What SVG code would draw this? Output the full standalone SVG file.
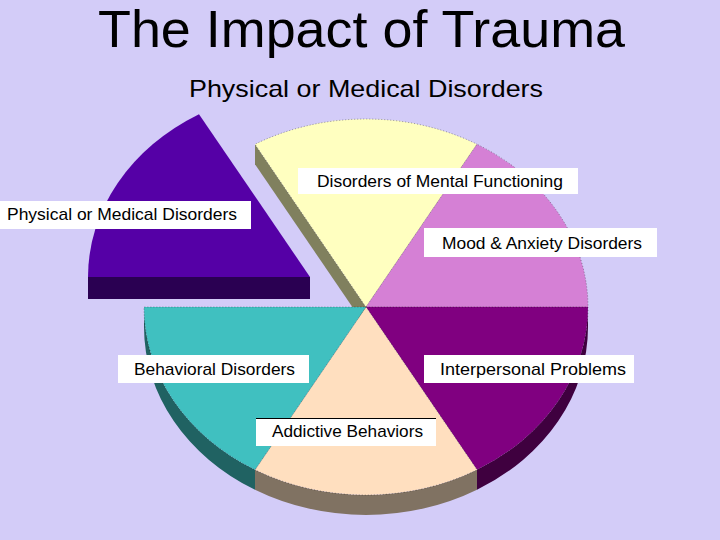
<svg xmlns="http://www.w3.org/2000/svg" width="720" height="540" viewBox="0 0 720 540">
<style>
  .lbl { font-family: "Liberation Sans", Arial, sans-serif; font-size: 17px; fill: #000; }
  .box { fill: #FFFFFF; }
  .top { stroke: #000; stroke-width: 0.7; stroke-dasharray: 1 2; stroke-opacity: 0.5; }
  .title { font-family: "Liberation Sans", Arial, sans-serif; fill: #000; }
</style>
<rect x="0" y="0" width="720" height="540" fill="#D3CCF8"/>
<text class="title" x="98" y="47" font-size="52" textLength="527" lengthAdjust="spacingAndGlyphs">The Impact of Trauma</text>
<text class="title" x="189" y="97" font-size="24" textLength="354" lengthAdjust="spacingAndGlyphs">Physical or Medical Disorders</text>

<g id="pie-sides">
  <path d="M588,307 A222,188 0 0 1 477,469.8 L477,489.8 A222,188 0 0 0 588,327 Z" fill="#3F003F"/>
  <path d="M477,469.8 A222,188 0 0 1 255,469.8 L255,489.8 A222,188 0 0 0 477,489.8 Z" fill="#807262"/>
  <path d="M255,469.8 A222,188 0 0 1 144,307 L144,327 A222,188 0 0 0 255,489.8 Z" fill="#206262"/>
  <path d="M366,307 L255,144.2 L255,164.2 L366,327 Z" fill="#80805E"/>
</g>

<g id="slice-mental">
  <path class="top" d="M366,307 L255,144.2 A222,188 0 0 1 477,144.2 Z" fill="#FFFFC0"/>
</g>
<g id="slice-mood">
  <path class="top" d="M366,307 L477,144.2 A222,188 0 0 1 588,307 Z" fill="#D580D5"/>
</g>
<g id="slice-interpersonal">
  <path class="top" d="M366,307 L588,307 A222,188 0 0 1 477,469.8 Z" fill="#800080"/>
</g>
<g id="slice-addictive">
  <path class="top" d="M366,307 L477,469.8 A222,188 0 0 1 255,469.8 Z" fill="#FFDFBF"/>
</g>
<g id="slice-behavioral">
  <path class="top" d="M366,307 L255,469.8 A222,188 0 0 1 144,307 Z" fill="#40C0C0"/>
</g>
<g id="slice-physical">
  <rect x="88" y="277" width="222" height="22" fill="#2A0052"/>
  <path d="M310,277 L88,277 A222,188 0 0 1 199,114.2 Z" fill="#5500A6"/>
</g>

<g id="label-physical">
  <rect class="box" x="0" y="201" width="251" height="28"/>
  <text class="lbl" x="7" y="220" textLength="230" lengthAdjust="spacingAndGlyphs">Physical or Medical Disorders</text>
</g>
<g id="label-mental">
  <rect class="box" x="298" y="168" width="280" height="26"/>
  <text class="lbl" x="317" y="187" textLength="246" lengthAdjust="spacingAndGlyphs">Disorders of Mental Functioning</text>
</g>
<g id="label-mood">
  <rect class="box" x="424" y="228" width="233" height="29"/>
  <text class="lbl" x="442" y="249" textLength="200" lengthAdjust="spacingAndGlyphs">Mood &amp; Anxiety Disorders</text>
</g>
<g id="label-behavioral">
  <rect class="box" x="118" y="355" width="191" height="28"/>
  <text class="lbl" x="134" y="375" textLength="161" lengthAdjust="spacingAndGlyphs">Behavioral Disorders</text>
</g>
<g id="label-interpersonal">
  <rect class="box" x="424" y="355" width="210" height="28"/>
  <text class="lbl" x="440" y="375" textLength="186" lengthAdjust="spacingAndGlyphs">Interpersonal Problems</text>
</g>
<g id="label-addictive">
  <rect class="box" x="256" y="418" width="180" height="28"/>
  <line x1="256" y1="418.5" x2="436" y2="418.5" stroke="#000" stroke-width="1"/>
  <text class="lbl" x="272" y="437" textLength="151" lengthAdjust="spacingAndGlyphs">Addictive Behaviors</text>
</g>
</svg>
